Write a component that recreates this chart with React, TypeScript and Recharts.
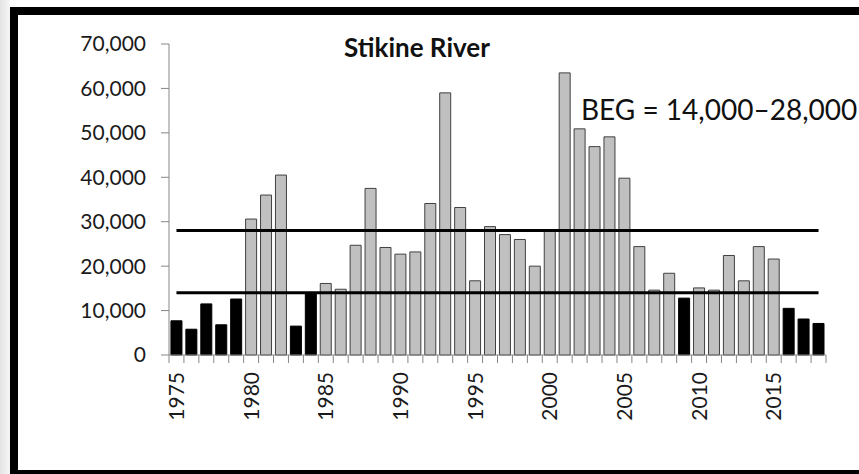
import React from 'react';
import { BarChart, Bar, XAxis, YAxis, Cell, ReferenceLine } from 'recharts';

const years = [
  1975, 1976, 1977, 1978, 1979, 1980, 1981, 1982, 1983, 1984, 1985,
  1986, 1987, 1988, 1989, 1990, 1991, 1992, 1993, 1994, 1995, 1996,
  1997, 1998, 1999, 2000, 2001, 2002, 2003, 2004, 2005, 2006, 2007,
  2008, 2009, 2010, 2011, 2012, 2013, 2014, 2015, 2016, 2017, 2018,
];

const escapement = [
  7700, 5800, 11500, 6800, 12600, 30600, 36000, 40500, 6500, 13900, 16100,
  14800, 24700, 37500, 24200, 22700, 23200, 34100, 59000, 33200, 16700, 28900,
  27100, 26000, 20000, 27900, 63500, 50900, 46900, 49100, 39800, 24400, 14600,
  18400, 12800, 15100, 14600, 22400, 16700, 24400, 21600, 10500, 8100, 7100,
];

const yTicks = [0, 10000, 20000, 30000, 40000, 50000, 60000, 70000];
const labelYears = [1975, 1980, 1985, 1990, 1995, 2000, 2005, 2010, 2015];

const goalLow = 14000;
const goalHigh = 28000;

const data = years.map((year, i) => ({ year, value: escapement[i] }));

const W = 859;
const H = 474;
const margin = { top: 44, right: 33, bottom: 59, left: 89 };
const Y_AXIS_W = 80;
const PLOT_W = W - margin.left - margin.right - Y_AXIS_W;
const BAND = PLOT_W / years.length;

const FONT = 'Lato, "Open Sans", sans-serif';
const AXIS_GRAY = '#868686';

const YearTick = (props: any) => {
  const { x, y, payload, index } = props;
  const half = BAND / 2;
  const isLast = index === years.length - 1;
  return (
    <g>
      <line x1={x - half} y1={y} x2={x - half} y2={y + 8} stroke={AXIS_GRAY} />
      {isLast && <line x1={x + half} y1={y} x2={x + half} y2={y + 8} stroke={AXIS_GRAY} />}
      {labelYears.includes(payload.value) && (
        <text
          transform={`translate(${x},${y}) rotate(-90)`}
          x={-17}
          dy="0.36em"
          textAnchor="end"
          fontSize={21}
          fontFamily={FONT}
          fill="#1a1a1a"
        >
          {payload.value}
        </text>
      )}
    </g>
  );
};

export default function App() {
  return (
    <div
      style={{
        position: 'fixed',
        left: 0,
        top: 0,
        width: W,
        height: H,
        background: '#fff',
        overflow: 'hidden',
      }}
    >
      <div
        style={{
          position: 'absolute',
          left: 0,
          top: 0,
          width: 10,
          height: H,
          background: 'linear-gradient(to right, #e4e4e4, #f6f6f6)',
        }}
      />
      <div
        style={{
          position: 'absolute',
          left: 10,
          top: 7,
          width: 920,
          height: 471,
          border: '8px solid #000',
          boxSizing: 'border-box',
        }}
      />
      <div style={{ position: 'absolute', left: 0, top: 0 }}>
        <BarChart width={W} height={H} data={data} margin={margin} barCategoryGap="13%">
          <XAxis
            dataKey="year"
            interval={0}
            tickLine={false}
            tickSize={0}
            tickMargin={0}
            height={60}
            stroke={AXIS_GRAY}
            tick={<YearTick />}
          />
          <YAxis
            width={Y_AXIS_W}
            domain={[0, 70000]}
            ticks={yTicks}
            tickSize={8}
            tickMargin={15}
            stroke={AXIS_GRAY}
            tick={{ fill: '#1a1a1a', fontSize: 21, fontFamily: FONT }}
            tickFormatter={(v: number) => v.toLocaleString('en-US')}
          />
          <Bar dataKey="value" isAnimationActive={false} strokeWidth={1}>
            {data.map((d) => (
              <Cell
                key={d.year}
                fill={d.value < goalLow ? '#000' : '#c0c0c0'}
                stroke={d.value < goalLow ? '#000' : '#404040'}
              />
            ))}
          </Bar>
          <ReferenceLine
            segment={[{ x: years[0], y: goalHigh }, { x: years[years.length - 1], y: goalHigh }]}
            stroke="#000"
            strokeWidth={3}
          />
          <ReferenceLine
            segment={[{ x: years[0], y: goalLow }, { x: years[years.length - 1], y: goalLow }]}
            stroke="#000"
            strokeWidth={3}
          />
          <text x={417} y={57} textAnchor="middle" fontSize={26} fontWeight="bold" fontFamily={FONT} fill="#111">
            Stikine River
          </text>
          <text x={581} y={120} fontSize={28} fontFamily={FONT} fill="#111">
            BEG = 14,000–28,000
          </text>
        </BarChart>
      </div>
    </div>
  );
}
